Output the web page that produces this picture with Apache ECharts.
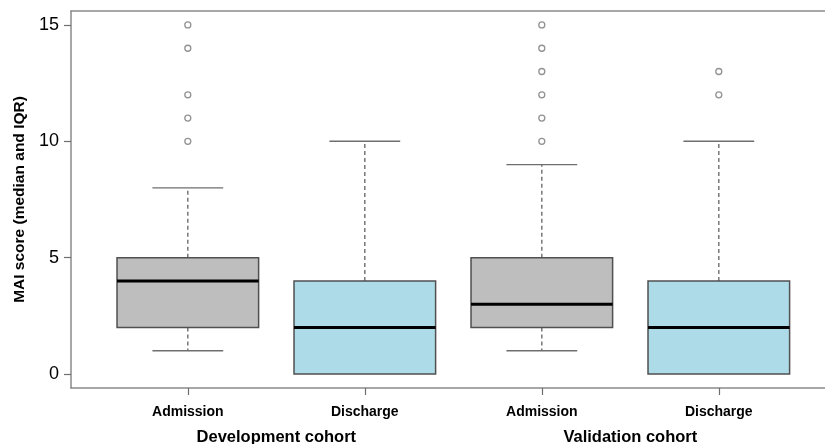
<!DOCTYPE html>
<html>
<head>
<meta charset="utf-8">
<script src="https://cdn.jsdelivr.net/npm/echarts@6/dist/echarts.min.js"></script>
<style>
	html, body { margin: 0; padding: 0; background: #fff; }
	#main { width: 825px; height: 444px; }
</style>
</head>
<body>
<div id="main"></div>
<script>
	// data
	var categories = [ 'Admission', 'Discharge', 'Admission', 'Discharge' ];
	var cohorts = [ 'Development cohort', 'Validation cohort' ];
	var cohortPos = [ 1.5, 3.5 ];
	var lowWhisker = [ 1, 0, 1, 0 ];
	var q1 = [ 2, 0, 2, 0 ];
	var median = [ 4, 2, 3, 2 ];
	var q3 = [ 5, 4, 5, 4 ];
	var highWhisker = [ 8, 10, 9, 10 ];
	var outliers = [ [ 15, 14, 12, 11, 10 ], [], [ 15, 14, 13, 12, 11, 10 ], [ 13, 12 ] ];
	var yTicks = [ 0, 5, 10, 15 ];
	var boxColors = [ '#bebebe', '#addbe8', '#bebebe', '#addbe8' ];

	var font = 'Liberation Sans, Arial, sans-serif';
	var lineCol = '#6e6e6e';
	var frameCol = '#8a8a8a';

	var boxData = [];
	for (var i = 0; i < categories.length; i++) {
		boxData.push([ i + 1, lowWhisker[i], q1[i], median[i], q3[i], highWhisker[i] ]);
	}
	var outlierData = [];
	for (var j = 0; j < outliers.length; j++) {
		for (var k = 0; k < outliers[j].length; k++) {
			outlierData.push([ j + 1, outliers[j][k] ]);
		}
	}

	function renderBox(params, api) {
		var x = api.value(0);
		var lo = api.value(1), b = api.value(2), m = api.value(3), t = api.value(4), hi = api.value(5);
		var w = api.size([ 0.8, 0 ])[0];
		var cx = api.coord([ x, 0 ])[0];
		var yLo = api.coord([ x, lo ])[1], yB = api.coord([ x, b ])[1], yM = api.coord([ x, m ])[1];
		var yT = api.coord([ x, t ])[1], yHi = api.coord([ x, hi ])[1];
		var dash = { stroke: lineCol, lineWidth: 1.4, lineDash: [ 4, 3 ] };
		var solid = { stroke: lineCol, lineWidth: 1.4 };
		var kids = [];
		if (hi > t) {
			kids.push({ type: 'line', shape: { x1: cx, y1: yT, x2: cx, y2: yHi }, style: dash });
			kids.push({ type: 'line', shape: { x1: cx - w / 4, y1: yHi, x2: cx + w / 4, y2: yHi }, style: solid });
		}
		if (lo < b) {
			kids.push({ type: 'line', shape: { x1: cx, y1: yB, x2: cx, y2: yLo }, style: dash });
			kids.push({ type: 'line', shape: { x1: cx - w / 4, y1: yLo, x2: cx + w / 4, y2: yLo }, style: solid });
		}
		kids.push({
			type: 'rect',
			shape: { x: cx - w / 2, y: yT, width: w, height: yB - yT },
			style: { fill: boxColors[params.dataIndex], stroke: '#505050', lineWidth: 1.5 }
		});
		kids.push({ type: 'line', shape: { x1: cx - w / 2, y1: yM, x2: cx + w / 2, y2: yM }, style: { stroke: '#000', lineWidth: 3 } });
		return { type: 'group', children: kids };
	}

	var myChart = echarts.init(document.getElementById('main'));
	// 右边框在图片外面，所以x轴只画到 4.6
	var option = {
		animation : false,
		grid : {
			left : 71,
			top : 11,
			right : 0,
			bottom : 56,
			outerBoundsMode : 'none'
		},
		xAxis : [ {
			type : 'value',
			min : 0.34,
			max : 4.6,
			splitLine : { show : false },
			axisLine : { onZero : false, lineStyle : { color : frameCol, width : 1.5 } },
			axisTick : { customValues : [ 1, 2, 3, 4 ], length : 7, lineStyle : { color : lineCol, width : 1.2 } },
			axisLabel : {
				customValues : [ 1, 2, 3, 4 ],
				margin : 17,
				fontFamily : font,
				fontWeight : 'bold',
				fontSize : 14,
				color : '#000',
				formatter : function(v) {
					return categories[Math.round(v) - 1];
				}
			}
		}, {
			type : 'value',
			position : 'bottom',
			min : 0.34,
			max : 4.6,
			splitLine : { show : false },
			axisLine : { show : false, onZero : false },
			axisTick : { show : false },
			axisLabel : {
				customValues : cohortPos,
				margin : 41,
				fontFamily : font,
				fontWeight : 'bold',
				fontSize : 16.5,
				color : '#000',
				formatter : function(v) {
					return cohorts[cohortPos.indexOf(v)];
				}
			}
		}, {
			// top frame line
			type : 'value',
			position : 'top',
			min : 0.34,
			max : 4.6,
			splitLine : { show : false },
			axisLine : { show : true, onZero : false, lineStyle : { color : frameCol, width : 1.5 } },
			axisTick : { show : false },
			axisLabel : { show : false }
		} ],
		yAxis : {
			type : 'value',
			min : -0.6,
			max : 15.6,
			name : 'MAI score (median and IQR)',
			nameLocation : 'middle',
			nameGap : 42,
			nameTextStyle : { fontFamily : font, fontWeight : 'bold', fontSize : 15.5, color : '#000' },
			splitLine : { show : false },
			axisLine : { show : true, onZero : false, lineStyle : { color : frameCol, width : 1.5 } },
			axisTick : { customValues : yTicks, length : 7, lineStyle : { color : lineCol, width : 1.2 } },
			axisLabel : {
				customValues : yTicks,
				margin : 12,
				fontFamily : font,
				fontSize : 18,
				color : '#000'
			}
		},
		series : [ {
			type : 'custom',
			renderItem : renderBox,
			encode : { x : 0, y : [ 1, 2, 3, 4, 5 ] },
			data : boxData,
			silent : true
		}, {
			type : 'scatter',
			data : outlierData,
			symbol : 'circle',
			symbolSize : 6,
			itemStyle : { color : '#fff', borderColor : '#777', borderWidth : 1.3 },
			silent : true
		} ]
	};
	myChart.setOption(option);
</script>
</body>
</html>
